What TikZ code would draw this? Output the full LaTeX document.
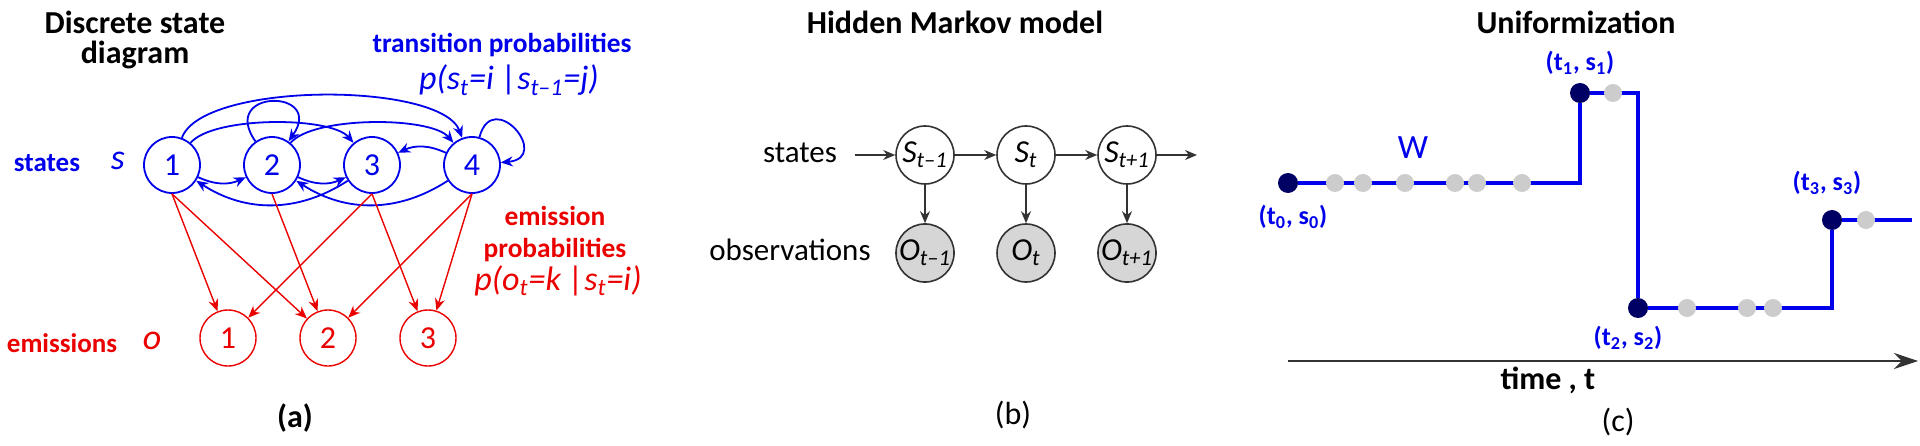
\documentclass[tikz,border=0pt]{standalone}
\usepackage{fontspec}
\setmainfont{Carlito}
\usetikzlibrary{arrows.meta,positioning}

\definecolor{stblue}{RGB}{0,0,235}
\definecolor{emred}{RGB}{235,0,0}
\definecolor{dotnavy}{RGB}{0,0,100}
\definecolor{dotgray}{RGB}{204,204,204}
\definecolor{hmmgray}{RGB}{51,51,51}
\newcommand{\setfs}[1]{\fontsize{#1}{#1}\selectfont}

\begin{document}
\begin{tikzpicture}[x=0.5pt,y=0.5pt,>={Stealth[length=6pt,width=5pt]},
  state/.style={circle, draw=stblue, line width=0.9pt, text=stblue, minimum size=28pt, inner sep=0pt, font=\setfs{16}},
  emis/.style={circle, draw=emred, line width=0.7pt, text=emred, minimum size=28pt, inner sep=0pt, font=\setfs{16}},
  trans/.style={->, stblue, line width=0.9pt},
  emit/.style={->, emred, line width=0.7pt},
  hid/.style={circle, draw=hmmgray, line width=0.8pt, minimum size=29pt, inner sep=0pt, font=\setfs{16}\itshape},
  obs/.style={hid, fill=dotgray!80},
  link/.style={->, hmmgray, line width=0.8pt},
  jump/.style={circle, fill=dotnavy, minimum size=10pt, inner sep=0pt},
  virt/.style={circle, fill=dotgray, minimum size=9pt, inner sep=0pt},
  traj/.style={stblue, line width=2.2pt},
  timeaxis/.style={-{Stealth[length=12pt,width=8pt]}, hmmgray, line width=0.7pt},
  ptitle/.style={font=\setfs{16}\bfseries, inner sep=0pt},
  lab/.style={font=\setfs{13}\bfseries, text=stblue}]
  \useasboundingbox (0,0) rectangle (1920,445);

  % Parameters
  \def\ys{280}
  \def\yo{107}

  % (a) discrete state diagram
  \node[ptitle, anchor=base] (atitle) at (135,411) {Discrete state};
  \node[ptitle, anchor=base] (atitle2) at ([yshift=-15pt]atitle.base) {diagram};
  \foreach \i/\x in {1/172,2/272,3/372,4/472}
    \node[state] (s\i) at (\x,\ys) {\i};
  \foreach \i/\x in {1/228,2/328,3/428}
    \node[emis] (o\i) at (\x,\yo) {\i};

  \node[font=\setfs{13.5}\bfseries, text=stblue] (slabel) at (47,282) {states};
  \node[font=\setfs{18}\itshape, text=stblue] (ssym) at (118,284) {s};
  \node[font=\setfs{13.5}\bfseries, text=emred] (olabel) at (62,102) {emissions};
  \node[font=\setfs{18}\itshape, text=emred] (osym) at (152,104) {o};

  \node[font=\setfs{13.7}\bfseries, text=stblue, anchor=base, inner sep=1pt] (tlabel) at (502,392) {transition probabilities};
  \node[font=\setfs{17}\itshape, text=stblue, anchor=base, inner sep=1pt] (tform) at (509,355) {p(s\textsubscript{t}=i |s\textsubscript{t–1}=j)};
  \node[font=\setfs{13.7}\bfseries, text=emred, anchor=base, inner sep=1pt] (elabel) at (555,220) {emission};
  \node[font=\setfs{13.7}\bfseries, text=emred, anchor=base, inner sep=1pt] (elabel2) at ([yshift=-16pt]elabel.base) {probabilities};
  \node[font=\setfs{17}\itshape, text=emred, anchor=base, inner sep=1pt] (eform) at (558,155) {p(o\textsubscript{t}=k |s\textsubscript{t}=i)};

  % Transitions
  \draw[trans] (s1) to[out=70,in=110,looseness=0.55] (s4);
  \draw[trans] (s1) to[out=50,in=130,looseness=0.55] (s3);
  \draw[trans] (s2) to[out=50,in=130,looseness=0.55] (s4);
  \draw[trans] (s4) to[bend right=25] (s3);
  \draw[trans] (s1) to[bend right=25] (s2);
  \draw[trans] (s2) to[bend right=25] (s3);
  \draw[trans] (s3) to[bend left=33] (s1);
  \draw[trans] (s4) to[bend left=33] (s2);
  \draw[trans] (s2) to[out=125,in=55,looseness=5] (s2);
  \draw[trans] (s4) to[out=75,in=5,looseness=4] (s4);

  % Emissions
  \foreach \a/\b in {1/1,1/2,2/2,3/1,3/3,4/2,4/3}
    \draw[emit] (s\a.south) -- (o\b);

  \node[font=\setfs{16}\bfseries] (alabel) at (295,27) {(a)};

  % (b) hidden Markov model
  \node[ptitle] (btitle) at (955,423) {Hidden Markov model};
  \node[hid] (hs1) at (925,290) {S\textsubscript{t–1}};
  \node[hid] (hs2) at (1026,290) {S\textsubscript{t}};
  \node[hid] (hs3) at (1127,290) {S\textsubscript{t+1}};
  \node[obs] (ho1) at (925,192) {O\textsubscript{t–1}};
  \node[obs] (ho2) at (1026,192) {O\textsubscript{t}};
  \node[obs] (ho3) at (1127,192) {O\textsubscript{t+1}};
  \node[font=\setfs{15.5}] (hstates) at (800,292) {states};
  \node[font=\setfs{15.5}] (hobs) at (790,195) {observations};
  \coordinate (hin) at (855,290);
  \coordinate (hout) at (1197,290);

  \draw[link] (hin) -- (hs1);
  \draw[link] (hs1) -- (hs2);
  \draw[link] (hs2) -- (hs3);
  \draw[link] (hs3) -- (hout);
  \foreach \i in {1,2,3}
    \draw[link] (hs\i) -- (ho\i);

  \node[font=\setfs{16}] (blabel) at (1013,30) {(b)};

  % (c) uniformization
  \node[ptitle] (ctitle) at (1576,423) {Uniformization};
  \coordinate (ax0) at (1288,84);
  \coordinate (ax1) at (1918,84);
  \draw[timeaxis] (ax0) -- (ax1);
  \node[font=\setfs{16}\bfseries] (tlab) at (1548,65) {time , t};
  \node[font=\setfs{16}] (clabel) at (1618,23) {(c)};

  \node[jump] (t0) at (1288,262) {};
  \node[jump] (t1) at (1580,352) {};
  \node[jump] (t2) at (1638,137) {};
  \node[jump] (t3) at (1832,225) {};
  \coordinate (tend) at (1912,225);

  % Trajectory
  \draw[traj] (t0) -- (t0 -| t1) -- (t1);
  \draw[traj] (t1) -- (t1 -| t2) -- (t2);
  \draw[traj] (t2) -- (t2 -| t3) -- (t3);
  \draw[traj] (t3) -- (tend);

  % Virtual jumps
  \foreach \x/\y [count=\k] in {1335/262,1363/262,1405/262,1455/262,1477/262,1522/262,
      1613/352,1687/137,1747/137,1773/137,1866/225}
    \node[virt] (g\k) at (\x,\y) {};

  \node[lab] (l0) at (1293,228) {(t\textsubscript{0}, s\textsubscript{0})};
  \node[lab] (l1) at (1580,382) {(t\textsubscript{1}, s\textsubscript{1})};
  \node[lab] (l2) at (1628,107) {(t\textsubscript{2}, s\textsubscript{2})};
  \node[lab] (l3) at (1827,262) {(t\textsubscript{3}, s\textsubscript{3})};
  \node[font=\setfs{17}, text=stblue] (wlab) at (1413,297) {W};
\end{tikzpicture}
\end{document}
